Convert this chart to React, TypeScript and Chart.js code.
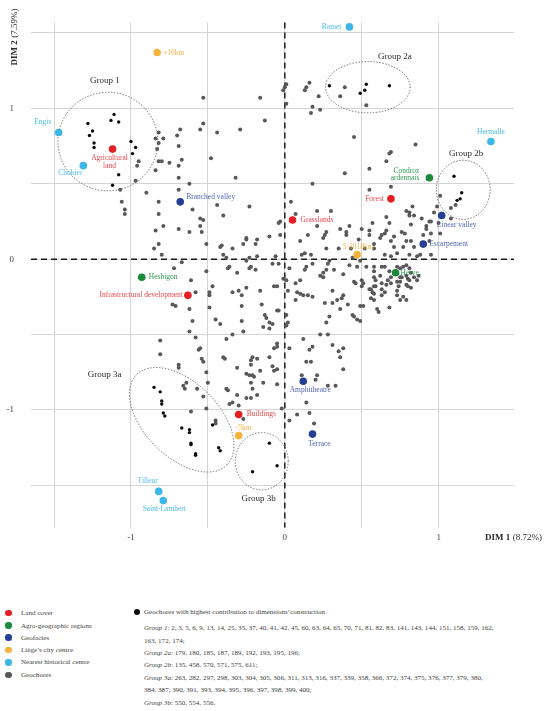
import React, { useEffect, useRef } from "react";
import { Chart, registerables } from "chart.js";

Chart.register(...registerables);

const SERIF = '"Liberation Serif", "DejaVu Serif", serif';

// ---------- axes ----------
const xRange = [-1.65, 1.49];
const yRange = [-1.78, 1.57];
const xTickValues = [-1.5, -1, -0.5, 0, 0.5, 1];
const yTickValues = [-1.5, -1, -0.5, 0, 0.5, 1, 1.5];
const xAxisTitle = ["DIM 1", "(8.72%)"];
const yAxisTitle = ["DIM 2", "(7.59%)"];

type P = [number, number];

// ---------- geochores (all) ----------
const geochores: P[] = [
  [-0.53, 1.07], [-0.16, 1.07], [-0.13, 0.92], [-0.53, 0.9], [-0.55, 0.86], [-0.44, 0.84], [-0.29, 0.86], [-0.7, 0.82],
  [-0.68, 0.86], [-0.82, 0.84], [-0.84, 0.8], [-0.79, 0.8], [-0.82, 0.77], [-0.83, 0.73], [-0.69, 0.75], [-0.95, 0.65],
  [-0.96, 0.62], [-0.82, 0.65], [-0.8, 0.65], [-0.75, 0.64], [-0.67, 0.66], [-0.69, 0.62], [-0.84, 0.59], [-0.69, 0.54],
  [-0.62, 0.5], [-0.48, 0.67], [-0.32, 0.54], [-0.97, 0.52], [-1.07, 0.46], [-0.9, 0.44], [-0.69, 0.46], [-1.06, 0.38],
  [-1.04, 0.33], [-1.04, 0.3], [-0.82, 0.38], [-0.44, 0.36], [-0.23, 0.35], [-0.6, 0.33], [-0.82, 0.3], [-0.4, 0.29],
  [-0.55, 0.27], [-0.53, 0.26], [-0.79, 0.22], [-0.84, 0.19], [-0.69, 0.2], [-0.62, 0.18], [-0.55, 0.22], [-0.54, 0.18],
  [-0.1, 0.15], [-0.25, 0.14], [-0.25, 0.13], [-0.27, 0.1], [-0.18, 0.13], [-0.19, 0.1], [-0.51, 0.1], [-0.41, 0.09],
  [-0.42, 0.08], [-0.34, 0.07], [-0.82, 0.1], [-0.85, 0.07], [-0.8, 0.03], [-0.4, 0.03], [-0.38, 0.01], [-0.18, 0.02],
  [0.16, 1.17], [0.14, 1.14], [0.13, 1.12], [-0.01, 1.12], [0.0, 1.14], [0.01, 1.16], [0.01, 1.03], [0.22, 1.08],
  [0.18, 1.01], [0.23, 0.99], [0.17, 0.97], [0.39, 1.14], [0.36, 1.08], [0.53, 1.02], [0.45, 0.81], [0.85, 0.76],
  [0.69, 0.71], [0.68, 0.7], [0.66, 0.65], [0.55, 0.6], [0.39, 0.57], [0.18, 0.5], [0.55, 0.46], [0.69, 0.48],
  [0.04, 0.38], [0.07, 0.3], [0.21, 0.32], [0.3, 0.32], [-0.03, 0.25], [-0.04, 0.24], [0.21, 0.22], [0.27, 0.18],
  [0.26, 0.16], [0.25, 0.14], [-0.03, 0.16], [0.1, 0.12], [0.36, 0.2], [0.4, 0.18], [0.27, 0.07], [0.35, 0.07],
  [0.11, 0.03], [0.17, 0.03], [0.5, 0.2], [0.55, 0.19], [0.55, 0.16], [0.57, 0.24], [0.58, 0.1], [0.62, 0.14],
  [0.63, 0.16], [0.65, 0.17], [0.66, 0.19], [0.68, 0.24], [0.71, 0.15], [0.76, 0.18], [0.78, 0.17], [0.79, 0.12],
  [0.82, 0.23], [0.81, 0.29], [0.79, 0.32], [0.81, 0.31], [0.84, 0.29], [0.83, 0.35], [0.89, 0.27], [0.92, 0.22],
  [0.92, 0.2], [0.94, 0.25], [0.95, 0.25], [0.97, 0.31], [0.99, 0.35], [1.01, 0.42], [1.01, 0.17], [0.95, 0.17],
  [0.94, 0.12], [0.82, 0.12], [0.84, 0.08], [0.77, 0.08], [0.81, 0.03], [0.88, 0.03], [0.86, 0.02], [0.95, 0.03],
  [0.71, 0.08], [0.69, 0.12], [0.65, 0.03], [0.73, 0.04], [0.58, 0.07], [0.52, 0.07], [0.48, 0.13], [0.43, 0.07],
  [1.08, 0.34], [1.11, 0.36], [1.08, 0.27], [1.0, 0.24], [0.66, 0.28], [0.42, 0.22], [0.4, 0.16], [0.15, 0.16],
  [0.13, 0.04], [-0.06, 0.02], [-0.23, 0.01], [0.9, 0.16],
  [-0.04, -0.03], [0.03, -0.06], [0.14, -0.05], [0.25, -0.09], [0.23, -0.11], [0.25, -0.12], [0.27, -0.07], [0.28, -0.03],
  [0.29, -0.01], [0.32, -0.07], [0.38, -0.1], [0.44, 0.01], [0.47, -0.05], [0.49, -0.01], [0.53, -0.05], [0.58, -0.05],
  [0.58, -0.08], [0.63, -0.05], [0.65, -0.05], [0.69, 0.02], [0.68, -0.08], [0.58, -0.12], [0.59, -0.14], [0.58, -0.18],
  [0.63, -0.16], [0.67, -0.14], [0.69, -0.12], [0.73, -0.05], [0.75, -0.06], [0.77, -0.05], [0.79, -0.04], [0.81, -0.06],
  [0.82, -0.09], [0.76, -0.12], [0.79, -0.11], [0.8, -0.13], [0.84, -0.12], [0.87, -0.11], [0.86, -0.14], [0.82, -0.19],
  [0.79, -0.17], [0.73, -0.15], [0.66, -0.17], [0.59, -0.18], [0.56, -0.2], [0.57, -0.22], [0.58, -0.23], [0.63, -0.2],
  [0.65, -0.22], [0.73, -0.21], [0.77, -0.25], [0.56, -0.26], [0.58, -0.27], [0.6, -0.33], [0.61, -0.35], [0.68, -0.32],
  [0.5, -0.14], [0.5, -0.18], [0.46, -0.16], [0.41, -0.3], [0.34, -0.27], [0.38, -0.24], [0.37, -0.26], [0.31, -0.21],
  [0.26, -0.29], [0.15, -0.24], [0.18, -0.25], [0.08, -0.22], [0.1, -0.23], [0.12, -0.24], [0.07, -0.27], [0.02, -0.21],
  [0.07, -0.16], [0.1, -0.14], [-0.05, -0.18], [-0.05, -0.34], [0.01, -0.37], [0.02, -0.42], [0.01, -0.44], [0.44, -0.37],
  [0.45, -0.38], [0.47, -0.4], [0.49, -0.31], [0.51, -0.31], [0.49, -0.41], [0.29, -0.38], [0.27, -0.42], [0.23, -0.5],
  [0.28, -0.5], [0.12, -0.53], [0.31, -0.57], [0.38, -0.59], [0.18, -0.58], [0.16, -0.6], [0.35, -0.61], [0.36, -0.65],
  [0.14, -0.68], [0.17, -0.68], [0.03, -0.59], [-0.05, -0.56], [-0.05, -0.58], [0.38, -0.73], [0.21, -0.77], [0.11, -0.77],
  [0.2, -0.8], [0.28, -0.84], [0.33, -0.84], [-0.05, -0.73], [-0.05, -0.83], [0.14, -0.95], [0.16, -1.02], [0.08, -1.03],
  [-0.02, -0.99], [0.03, -1.07], [0.19, -1.09], [0.18, -0.03], [0.13, -0.07], [0.42, -0.04], [0.45, -0.15], [0.51, -0.16],
  [0.62, -0.11], [0.55, -0.2], [0.63, -0.24], [0.75, -0.12], [0.75, -0.15], [0.81, -0.14], [0.8, -0.18], [0.74, -0.18],
  [0.69, -0.16], [0.73, -0.24], [0.75, -0.27], [0.79, -0.27], [0.31, -0.29], [0.36, -0.33],
  [-0.72, -0.06], [-0.67, -0.02], [-0.51, -0.08], [-0.37, -0.06], [-0.36, -0.05], [-0.31, -0.09], [-0.23, -0.06], [-0.22, -0.05],
  [-0.19, -0.07], [-0.25, -0.01], [-0.08, -0.03], [-0.01, -0.13], [0.01, -0.14], [-0.61, -0.14], [-0.58, -0.22], [-0.47, -0.18],
  [-0.49, -0.22], [-0.49, -0.24], [-0.49, -0.32], [-0.34, -0.22], [-0.3, -0.21], [-0.25, -0.19], [-0.28, -0.24], [-0.16, -0.21],
  [-0.07, -0.18], [-0.15, -0.3], [-0.28, -0.31], [-0.73, -0.3], [-0.71, -0.31], [-0.62, -0.33], [-0.6, -0.41], [-0.45, -0.4],
  [-0.42, -0.43], [-0.28, -0.41], [-0.27, -0.48], [-0.13, -0.37], [-0.12, -0.39], [-0.1, -0.42], [-0.08, -0.43], [-0.04, -0.34],
  [-0.14, -0.45], [-0.1, -0.46], [-0.34, -0.5], [-0.38, -0.53], [-0.62, -0.48], [-0.58, -0.52], [-0.81, -0.54], [-0.81, -0.63],
  [-0.56, -0.6], [-0.55, -0.59], [-0.54, -0.66], [-0.53, -0.68], [-0.4, -0.65], [-0.39, -0.66], [-0.31, -0.72], [-0.21, -0.65],
  [-0.22, -0.67], [-0.18, -0.66], [-0.22, -0.7], [-0.16, -0.74], [-0.25, -0.76], [-0.23, -0.77], [-0.21, -0.77], [-0.2, -0.78],
  [-0.1, -0.65], [-0.08, -0.71], [-0.07, -0.74], [-0.07, -0.59], [-0.69, -0.7], [-0.69, -0.72], [-0.51, -0.75], [-0.5, -0.82],
  [-0.57, -0.86], [-0.53, -0.91], [-0.64, -0.82], [-0.66, -0.84], [-0.65, -0.86], [-0.38, -0.86], [-0.37, -0.87], [-0.31, -0.9],
  [-0.25, -0.92], [-0.22, -0.92], [-0.18, -0.9], [-0.14, -0.82], [-0.21, -0.86], [-0.51, -0.99], [-0.61, -1.01], [-0.45, -1.07],
  [-0.45, -1.09], [-0.36, -0.96], [-0.34, -0.95], [-0.3, -0.97], [-0.22, -0.82], [-0.27, -1.06],
];

// ---------- geochores with highest contribution ----------
const group1Points: P[] = [
  [-1.11, 0.96], [-1.13, 0.92], [-1.08, 0.91], [-1.28, 0.9], [-1.25, 0.85], [-1.27, 0.82], [-1.24, 0.77],
  [-1.24, 0.74], [-1.0, 0.78], [-0.97, 0.74], [-0.99, 0.7], [-1.08, 0.56], [-1.12, 0.49],
];
const group2aPoints: P[] = [[0.29, 1.15], [0.53, 1.16], [0.52, 1.12], [0.49, 1.1], [0.68, 1.15]];
const group2bPoints: P[] = [[1.1, 0.55], [1.15, 0.44], [1.14, 0.4], [1.12, 0.39]];
const group3aPoints: P[] = [
  [-0.85, -0.85], [-0.81, -0.88], [-0.8, -0.94], [-0.8, -0.96], [-0.79, -1.02], [-0.78, -1.04], [-0.67, -1.12],
  [-0.62, -1.13], [-0.62, -1.15], [-0.61, -1.22], [-0.61, -1.23], [-0.58, -1.29], [-0.58, -1.3], [-0.47, -1.1],
  [-0.43, -1.25], [-0.42, -1.27],
];
const group3bPoints: P[] = [[-0.1, -1.22], [-0.21, -1.41], [-0.05, -1.37]];

// ---------- supplementary categories ----------
const landCoverNames = ["Agricultural\nland", "Grasslands", "Forest", "Infrastructural development", "Buildings"];
const landCoverPoints: P[] = [[-1.12, 0.73], [0.05, 0.26], [0.69, 0.4], [-0.63, -0.24], [-0.3, -1.03]];

const agroNames = ["Hesbigon", "Condroz\nardennais", "Herve"];
const agroPoints: P[] = [[-0.93, -0.12], [0.94, 0.54], [0.72, -0.09]];

const geofaciesNames = ["Branched valley", "Linear valley", "Escarpement", "Amphitheatre", "Terrace"];
const geofaciesPoints: P[] = [[-0.68, 0.38], [1.02, 0.29], [0.9, 0.1], [0.12, -0.81], [0.18, -1.16]];

const liegeNames = ["+10km", "5-1010km", "-5km"];
const liegePoints: P[] = [[-0.83, 1.37], [0.47, 0.03], [-0.3, -1.17]];

const historicalNames = ["Ramet", "Engis", "Chokier", "Hermalle", "Tilleur", "Saint-Lambert"];
const historicalPoints: P[] = [[0.42, 1.54], [-1.47, 0.84], [-1.31, 0.62], [1.34, 0.78], [-0.82, -1.54], [-0.79, -1.6]];

// ---------- group ellipses (data units) ----------
const groupNames = ["Group 1", "Group 2a", "Group 2b", "Group 3a", "Group 3b"];
const groupCentres: P[] = [[-1.15, 0.78], [0.54, 1.14], [1.16, 0.46], [-0.67, -1.065], [-0.15, -1.34]];
const groupRadii: P[] = [[0.325, 0.327], [0.275, 0.17], [0.175, 0.196], [0.415, 0.247], [0.172, 0.19]];
const groupAngles = [0, 0, 0, 45, 0];

// ---------- legend text ----------
const legendLabels = ["Land cover", "Agro-geographic regions", "Geofacies", "Liège’s city centre", "Nearest historical centre", "Geochores"];
const contributionTitle = "Geochores with highest contribution to dimensions’construction";
const contributionGroups = ["Group 1", "", "Group 2a", "Group 2b", "Group 3a", "", "Group 3b"];
const contributionLists = [
  "2, 3, 5, 6, 9, 13, 14, 25, 35, 37, 40, 41, 42, 45, 60, 63, 64, 65, 70, 71, 81, 82, 83, 141, 143, 144, 151, 158, 159, 162,",
  "163, 172, 174;",
  "179, 180, 185, 187, 189, 192, 193, 195, 196;",
  "135, 458, 570, 571, 575, 611;",
  "263, 282, 297, 298, 303, 304, 305, 306, 311, 313, 316, 337, 339, 358, 366, 372, 374, 375, 376, 377, 379, 380,",
  "384, 387, 390, 391, 393, 394, 395, 396, 397, 398, 399, 400;",
  "550, 554, 556.",
];

// ---------- styles ----------
const COL = {
  land: "#e31e24",
  agro: "#1b8a3c",
  geo: "#233e93",
  liege: "#f5b33b",
  hist: "#3cb6e6",
  geochore: "#58585a",
  contrib: "#0d0d0d",
};
const TEXTCOL = {
  land: "#e8474c",
  agro: "#2f9a4f",
  geo: "#5366b3",
  liege: "#f3b548",
  hist: "#4dbde8",
};

const labelPlacement: Record<string, { align: CanvasTextAlign; dx: number; dy: number }> = {
  "Agricultural\nland": { align: "center", dx: -3, dy: 9 },
  Grasslands: { align: "left", dx: 8, dy: 0 },
  Forest: { align: "right", dx: -7, dy: 0 },
  "Infrastructural development": { align: "right", dx: -5, dy: 0 },
  Buildings: { align: "left", dx: 8, dy: 0 },
  Hesbigon: { align: "left", dx: 7, dy: 0 },
  "Condroz\nardennais": { align: "right", dx: -10, dy: -7 },
  Herve: { align: "left", dx: 5, dy: 0 },
  "Branched valley": { align: "left", dx: 6, dy: -5 },
  "Linear valley": { align: "center", dx: 15, dy: 10 },
  Escarpement: { align: "left", dx: 6, dy: 0 },
  Amphitheatre: { align: "center", dx: 7, dy: 9 },
  Terrace: { align: "center", dx: 7, dy: 10 },
  "+10km": { align: "left", dx: 6, dy: 0 },
  "5-1010km": { align: "center", dx: 1, dy: -8 },
  "-5km": { align: "center", dx: 5, dy: -8 },
  Ramet: { align: "right", dx: -8, dy: 0 },
  Engis: { align: "center", dx: -16, dy: -10 },
  Chokier: { align: "center", dx: -13, dy: 7 },
  Hermalle: { align: "center", dx: 0, dy: -10 },
  Tilleur: { align: "center", dx: -11, dy: -10 },
  "Saint-Lambert": { align: "center", dx: 1, dy: 9 },
};
// pixel offsets of group captions relative to the ellipse centre
const groupLabelOffsets: P[] = [[-3, -61], [27, -31], [3, -36], [-77, -45], [-3, 37]];

const toXY = (pts: P[]) => pts.map(([x, y]) => ({ x, y }));

const categoryDefs = [
  { key: "land", names: landCoverNames, points: landCoverPoints },
  { key: "agro", names: agroNames, points: agroPoints },
  { key: "geo", names: geofaciesNames, points: geofaciesPoints },
  { key: "liege", names: liegeNames, points: liegePoints },
  { key: "hist", names: historicalNames, points: historicalPoints },
];

const overlayPlugin = {
  id: "overlay",
  beforeDatasetsDraw(chart: any) {
    const { ctx, chartArea, scales } = chart;
    const xs = scales.x, ys = scales.y;
    const x0 = xs.getPixelForValue(0), y0 = ys.getPixelForValue(0);
    ctx.save();
    // zero lines
    ctx.strokeStyle = "#1e1e1e";
    ctx.lineWidth = 1.5;
    ctx.setLineDash([6, 4]);
    ctx.beginPath();
    ctx.moveTo(x0, chartArea.top);
    ctx.lineTo(x0, chartArea.bottom);
    ctx.moveTo(chartArea.left, y0);
    ctx.lineTo(chartArea.right, y0);
    ctx.stroke();
    // group ellipses
    const ux = xs.getPixelForValue(1) - xs.getPixelForValue(0);
    const uy = ys.getPixelForValue(0) - ys.getPixelForValue(1);
    ctx.strokeStyle = "#6a6a6a";
    ctx.lineWidth = 1;
    ctx.lineCap = "round";
    ctx.setLineDash([0.6, 2.4]);
    groupCentres.forEach(([cx, cy], i) => {
      const px = xs.getPixelForValue(cx), py = ys.getPixelForValue(cy);
      ctx.beginPath();
      ctx.ellipse(px, py, groupRadii[i][0] * ux, groupRadii[i][1] * uy, (groupAngles[i] * Math.PI) / 180, 0, Math.PI * 2);
      ctx.stroke();
    });
    ctx.setLineDash([]);
    // group captions
    ctx.fillStyle = "#2b2b2b";
    ctx.font = `9px ${SERIF}`;
    ctx.textAlign = "center";
    ctx.textBaseline = "middle";
    groupCentres.forEach(([cx, cy], i) => {
      const px = xs.getPixelForValue(cx), py = ys.getPixelForValue(cy);
      ctx.fillText(groupNames[i], px + groupLabelOffsets[i][0], py + groupLabelOffsets[i][1]);
    });
    ctx.restore();
  },
  afterDatasetsDraw(chart: any) {
    const { ctx } = chart;
    ctx.save();
    ctx.font = `7.5px ${SERIF}`;
    ctx.textBaseline = "middle";
    chart.data.datasets.forEach((ds: any, di: number) => {
      if (!ds.names) return;
      const meta = chart.getDatasetMeta(di);
      ctx.fillStyle = ds.textColor;
      meta.data.forEach((el: any, j: number) => {
        const name: string = ds.names[j];
        const pl = labelPlacement[name] || { align: "left", dx: 6, dy: 0 };
        ctx.textAlign = pl.align;
        name.split("\n").forEach((line, k) => {
          ctx.fillText(line, el.x + pl.dx, el.y + pl.dy + k * 7.8);
        });
      });
    });
    ctx.restore();
  },
  afterDraw(chart: any) {
    const { ctx, chartArea } = chart;
    ctx.save();
    ctx.fillStyle = "#2a2a2a";
    ctx.textBaseline = "middle";
    const bold = `bold 9px ${SERIF}`;
    const norm = `9px ${SERIF}`;
    // x title, right aligned
    const xr = chartArea.right + 28, xy = chartArea.bottom + 10;
    ctx.font = norm;
    ctx.textAlign = "right";
    const w1 = ctx.measureText(xAxisTitle[1]).width;
    ctx.fillText(xAxisTitle[1], xr, xy);
    ctx.font = bold;
    ctx.fillText(xAxisTitle[0], xr - w1 - 2.5, xy);
    // y title, rotated, ending near the top
    ctx.translate(chartArea.left - 16, chartArea.top - 14);
    ctx.rotate(-Math.PI / 2);
    ctx.textAlign = "right";
    ctx.font = norm;
    const w2 = ctx.measureText(yAxisTitle[1]).width;
    ctx.fillText(yAxisTitle[1], 0, 0);
    ctx.font = bold;
    ctx.fillText(yAxisTitle[0], -w2 - 2.5, 0);
    ctx.restore();
  },
};

function ChartCanvas() {
  const ref = useRef<HTMLCanvasElement | null>(null);
  useEffect(() => {
    if (!ref.current) return;
    const datasets: any[] = [];
    categoryDefs.forEach((c) => {
      datasets.push({
        data: toXY(c.points),
        names: c.names,
        textColor: (TEXTCOL as any)[c.key],
        backgroundColor: (COL as any)[c.key],
        borderWidth: 0,
        pointRadius: 3.8,
        order: 1,
      });
    });
    [group1Points, group2aPoints, group2bPoints, group3aPoints, group3bPoints].forEach((g) => {
      datasets.push({
        data: toXY(g),
        backgroundColor: COL.contrib,
        borderWidth: 0,
        pointRadius: 1.7,
        order: 2,
      });
    });
    datasets.push({
      data: toXY(geochores),
      backgroundColor: COL.geochore,
      borderWidth: 0,
      pointRadius: 2,
      order: 3,
    });

    const tickCb = (v: any) => (Number.isInteger(Number(v)) ? String(v) : "");
    const chart = new Chart(ref.current, {
      type: "scatter",
      data: { datasets },
      options: {
        animation: false,
        responsive: false,
        maintainAspectRatio: false,
        layout: { padding: { top: 16, right: 36, left: 0, bottom: 0 } },
        plugins: { legend: { display: false }, tooltip: { enabled: false } },
        scales: {
          x: {
            type: "linear",
            min: xRange[0],
            max: xRange[1],
            afterBuildTicks: (s: any) => {
              s.ticks = xTickValues.map((v) => ({ value: v }));
            },
            afterFit: (s: any) => {
              s.height = 22;
            },
            grid: { color: "#d4d4d4", lineWidth: 1, drawTicks: false },
            border: { display: false },
            ticks: {
              padding: 5,
              autoSkip: false,
              maxRotation: 0,
              color: "#444",
              font: { family: SERIF, size: 9 },
              callback: tickCb,
            },
          },
          y: {
            type: "linear",
            min: yRange[0],
            max: yRange[1],
            afterBuildTicks: (s: any) => {
              s.ticks = yTickValues.map((v) => ({ value: v }));
            },
            afterFit: (s: any) => {
              s.width = 31;
            },
            grid: { color: "#d4d4d4", lineWidth: 1, drawTicks: false },
            border: { display: false },
            ticks: {
              padding: 17,
              autoSkip: false,
              color: "#444",
              font: { family: SERIF, size: 9 },
              callback: tickCb,
            },
          },
        },
      } as any,
      plugins: [overlayPlugin as any],
    });
    return () => chart.destroy();
  }, []);
  return <canvas ref={ref} width={550} height={550} style={{ position: "absolute", left: 0, top: 0, width: 550, height: 550 }} />;
}

const legendColors = [COL.land, COL.agro, COL.geo, COL.liege, COL.hist, COL.geochore];
const legendLeftCentres = [613, 625.5, 637.7, 650, 662.4, 675];
const contribCentres = [628, 640.5, 653, 665.4, 677.8, 690.3, 703];

export default function App() {
  const text: React.CSSProperties = {
    position: "absolute",
    fontFamily: SERIF,
    fontSize: "7.05px",
    lineHeight: "12px",
    height: 12,
    color: "#3f3f3f",
    whiteSpace: "nowrap",
  };
  const dot = (c: string, cx: number, cy: number, d: number): React.CSSProperties => ({
    position: "absolute",
    left: cx - d / 2,
    top: cy - d / 2,
    width: d,
    height: d,
    borderRadius: "50%",
    background: c,
  });
  return (
    <div style={{ position: "absolute", left: 0, top: 0, width: 550, height: 711, background: "#fff", overflow: "hidden" }}>
      <ChartCanvas />
      {legendLabels.map((l, i) => (
        <React.Fragment key={l}>
          <div style={dot(legendColors[i], 8.5, legendLeftCentres[i], 6.5)} />
          <div style={{ ...text, left: 21, top: legendLeftCentres[i] - 6 }}>{l}</div>
        </React.Fragment>
      ))}
      <div style={dot(COL.contrib, 137, 612, 6.5)} />
      <div style={{ ...text, left: 144, top: 606 }}>{contributionTitle}</div>
      {contributionLists.map((l, i) => (
        <div key={i} style={{ ...text, left: 144, top: contribCentres[i] - 6 }}>
          {contributionGroups[i] ? (
            <>
              <i>{contributionGroups[i]}</i>:{" "}
            </>
          ) : null}
          {l}
        </div>
      ))}
    </div>
  );
}
